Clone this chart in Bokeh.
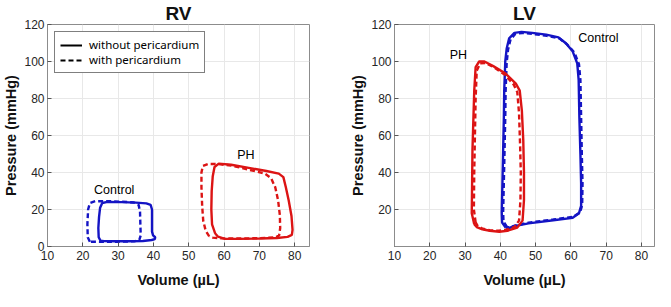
from bokeh.plotting import figure
from bokeh.layouts import row
from bokeh.models import Range1d, FixedTicker, Label, Legend, LegendItem
from bokeh.embed import file_html
from bokeh.resources import INLINE

# ---------------- data ----------------
x_ticks = [10, 20, 30, 40, 50, 60, 70, 80]
rv_y_ticks = [0, 20, 40, 60, 80, 100, 120]
lv_y_ticks = [20, 40, 60, 80, 100, 120]

# RV Control, without pericardium (solid)
rv_ctrl_solid_v = [25.0, 24.5, 24.4, 24.6, 24.9, 25.5, 27.0, 31.0, 35.0, 38.0, 39.2, 39.6, 39.6, 39.6, 39.9, 40.5, 40.4, 39.5, 37.0, 33.0, 29.0, 26.0, 25.0]
rv_ctrl_solid_p = [3.2, 5.0, 10.0, 16.0, 21.0, 23.5, 24.1, 24.0, 23.7, 23.3, 22.5, 20.0, 14.0, 8.0, 6.0, 5.0, 4.0, 3.5, 3.0, 2.8, 2.8, 2.9, 3.2]
# RV Control, with pericardium (dashed)
rv_ctrl_dash_v = [22.0, 21.4, 21.3, 21.5, 22.0, 23.5, 27.0, 31.0, 34.5, 35.8, 36.2, 36.3, 36.4, 36.0, 34.5, 30.0, 25.0, 22.0]
rv_ctrl_dash_p = [2.6, 5.0, 12.0, 20.0, 23.5, 24.5, 24.5, 24.2, 23.8, 22.5, 19.0, 12.0, 6.0, 3.6, 2.8, 2.6, 2.5, 2.6]
# RV PH, solid
rv_ph_solid_v = [57.5, 56.6, 56.4, 56.5, 56.8, 57.3, 58.5, 62.0, 67.0, 72.0, 75.5, 76.8, 77.5, 78.3, 79.1, 79.4, 79.2, 78.0, 75.0, 70.0, 64.0, 60.0, 58.3, 57.5]
rv_ph_solid_p = [7.0, 12.0, 20.0, 30.0, 38.0, 43.0, 44.8, 44.2, 42.5, 40.8, 39.4, 37.5, 32.0, 25.0, 16.5, 9.0, 6.3, 5.2, 4.6, 4.3, 4.1, 4.2, 5.3, 7.0]
# RV PH, dashed
rv_ph_dash_v = [55.8, 54.8, 54.1, 53.8, 53.6, 53.6, 54.0, 55.5, 58.0, 62.0, 67.0, 71.5, 73.3, 74.5, 75.3, 75.8, 75.9, 75.6, 74.5, 70.0, 64.0, 59.0, 56.8, 55.8]
rv_ph_dash_p = [5.5, 8.5, 14.0, 22.0, 32.0, 40.0, 43.5, 44.6, 44.6, 43.8, 41.5, 39.5, 37.0, 32.0, 25.0, 17.0, 10.0, 6.0, 4.9, 4.5, 4.3, 4.4, 4.8, 5.5]

# LV Control, solid
lv_ctrl_solid_v = [41.5, 40.5, 40.4, 40.6, 40.8, 41.0, 41.1, 41.4, 41.8, 42.5, 44.0, 46.0, 49.0, 53.0, 56.5, 58.5, 60.5, 61.8, 62.2, 62.4, 62.7, 62.9, 62.9, 62.3, 60.5, 55.0, 48.0, 44.0, 42.5, 41.5]
lv_ctrl_solid_p = [10.2, 13.0, 18.2, 35.0, 52.0, 70.0, 84.0, 100.0, 107.0, 112.5, 115.5, 116.0, 115.5, 114.5, 113.0, 110.0, 105.5, 99.0, 90.0, 70.0, 50.0, 34.0, 22.0, 18.0, 15.5, 14.2, 12.5, 11.0, 10.0, 10.2]
# LV Control, dashed
lv_ctrl_dash_v = [41.9, 40.9, 40.8, 41.0, 41.2, 41.4, 41.5, 41.8, 42.2, 42.9, 44.3, 46.2, 49.2, 53.2, 56.8, 58.9, 61.0, 62.3, 62.7, 62.9, 63.1, 63.3, 63.2, 62.6, 60.6, 55.0, 48.0, 44.3, 42.8, 41.9]
lv_ctrl_dash_p = [10.6, 13.4, 18.6, 35.0, 52.0, 70.0, 84.0, 99.5, 106.5, 112.0, 115.0, 115.4, 114.9, 113.9, 112.4, 109.3, 104.8, 98.5, 90.0, 70.0, 50.0, 34.0, 22.3, 18.4, 16.0, 14.6, 12.9, 11.4, 10.4, 10.6]
# LV PH, solid
lv_ph_solid_v = [32.6, 31.9, 32.0, 32.1, 32.3, 32.6, 33.0, 34.0, 35.5, 38.0, 41.5, 44.4, 45.5, 46.1, 46.5, 46.7, 46.7, 46.3, 44.8, 42.0, 39.7, 37.0, 34.9, 33.3, 32.6]
lv_ph_solid_p = [12.0, 18.0, 35.0, 52.0, 65.0, 84.0, 97.0, 100.0, 100.0, 97.5, 93.5, 88.0, 84.3, 73.5, 57.5, 40.0, 25.0, 14.0, 10.2, 8.5, 8.0, 8.5, 9.3, 10.5, 12.0]
# LV PH, dashed
lv_ph_dash_v = [33.0, 32.5, 32.6, 32.8, 33.0, 33.3, 34.3, 35.8, 38.5, 41.5, 43.8, 44.8, 45.3, 45.6, 45.8, 45.7, 45.3, 44.0, 41.5, 39.5, 37.0, 35.0, 33.6, 33.0]
lv_ph_dash_p = [13.0, 20.0, 40.0, 60.0, 80.0, 95.0, 99.0, 99.2, 96.5, 92.5, 87.5, 83.5, 72.0, 55.0, 40.0, 25.0, 14.0, 10.5, 9.0, 8.5, 8.8, 9.6, 11.0, 13.0]

legend_labels = ["without pericardium", "with pericardium"]

BLUE = "#1414c4"
RED = "#dc1414"
TXT = "#262626"
FONT = "Liberation Sans"
LW = 2.4
DASH = "5 3"
NAN = float("nan")


def style(p, yticks):
    p.xaxis.ticker = FixedTicker(ticks=x_ticks)
    p.yaxis.ticker = FixedTicker(ticks=yticks)
    for ax in (p.xaxis[0], p.yaxis[0]):
        ax.major_tick_in = 4
        ax.major_tick_out = 0
        ax.minor_tick_line_color = None
        ax.major_tick_line_color = "#555555"
        ax.axis_line_color = "#8c8c8c"
        ax.major_label_text_font = FONT
        ax.major_label_text_font_size = "12px"
        ax.major_label_text_color = TXT
        ax.axis_label_text_font = FONT
        ax.axis_label_text_font_size = "14.5px"
        ax.axis_label_text_font_style = "bold"
        ax.axis_label_text_color = "#111111"
    p.xaxis.major_label_standoff = 4
    p.xaxis.axis_label_standoff = 9
    p.yaxis.major_label_standoff = 3
    p.yaxis.axis_label_standoff = 2
    p.xaxis.axis_label = "Volume (µL)"
    p.yaxis.axis_label = "Pressure (mmHg)"
    p.grid.grid_line_color = "#e8e8e8"
    p.grid.grid_line_width = 1
    p.outline_line_color = "#8c8c8c"
    p.outline_line_width = 1
    p.title.text_font = FONT
    p.title.text_font_size = "19px"
    p.title.text_font_style = "bold"
    p.title.align = "center"
    p.title.text_color = "#111111"
    p.title.standoff = 1
    p.background_fill_color = "white"
    p.border_fill_color = "white"


H = 291

p1 = figure(width=332, height=H, x_range=Range1d(10, 84.2), y_range=Range1d(0, 120),
            output_backend="svg", toolbar_location=None, title="RV", sizing_mode="fixed",
            min_border_left=42, min_border_right=23, min_border_top=22, min_border_bottom=45)
style(p1, rv_y_ticks)

p1.line(rv_ctrl_solid_v, rv_ctrl_solid_p, line_color=BLUE, line_width=LW)
p1.line(rv_ctrl_dash_v, rv_ctrl_dash_p, line_color=BLUE, line_width=LW, line_dash=DASH)
p1.line(rv_ph_solid_v, rv_ph_solid_p, line_color=RED, line_width=LW)
p1.line(rv_ph_dash_v, rv_ph_dash_p, line_color=RED, line_width=LW, line_dash=DASH)

# legend-only renderers (a single NaN point: nothing is drawn in the plot)
leg_solid = p1.line(x=[NAN], y=[NAN], line_color="black", line_width=2)
leg_dash = p1.line(x=[NAN], y=[NAN], line_color="black", line_width=2, line_dash="5 3")
legend = Legend(items=[LegendItem(label=legend_labels[0], renderers=[leg_solid], index=0),
                       LegendItem(label=legend_labels[1], renderers=[leg_dash], index=0)],
                location="top_left", margin=7, padding=5, spacing=0,
                label_text_font="Noto Sans", label_text_font_size="11.5px",
                label_text_color="black", label_height=14, label_standoff=7,
                glyph_width=22, glyph_height=14,
                border_line_color="black", border_line_width=1,
                background_fill_alpha=1.0)
p1.add_layout(legend, "center")

for txt, x, y in [("Control", 28.9, 30.5), ("PH", 66.2, 49.2)]:
    p1.add_layout(Label(x=x, y=y, text=txt, text_font=FONT, text_font_size="12.5px",
                        text_color="black", text_align="center", text_baseline="middle"))

p2 = figure(width=323, height=H, x_range=Range1d(10, 83.7), y_range=Range1d(0, 120),
            output_backend="svg", toolbar_location=None, title="LV", sizing_mode="fixed",
            min_border_left=62, min_border_right=1, min_border_top=22, min_border_bottom=45)
style(p2, lv_y_ticks)

p2.line(lv_ctrl_solid_v, lv_ctrl_solid_p, line_color=BLUE, line_width=LW)
p2.line(lv_ctrl_dash_v, lv_ctrl_dash_p, line_color=BLUE, line_width=LW, line_dash=DASH)
p2.line(lv_ph_solid_v, lv_ph_solid_p, line_color=RED, line_width=LW)
p2.line(lv_ph_dash_v, lv_ph_dash_p, line_color=RED, line_width=LW, line_dash=DASH)

for txt, x, y in [("PH", 28.1, 103.4), ("Control", 67.8, 112.9)]:
    p2.add_layout(Label(x=x, y=y, text=txt, text_font=FONT, text_font_size="12.5px",
                        text_color="black", text_align="center", text_baseline="middle"))

layout = row(p1, p2, spacing=0, sizing_mode="fixed")
open("out.html", "w").write(file_html(layout, INLINE))
